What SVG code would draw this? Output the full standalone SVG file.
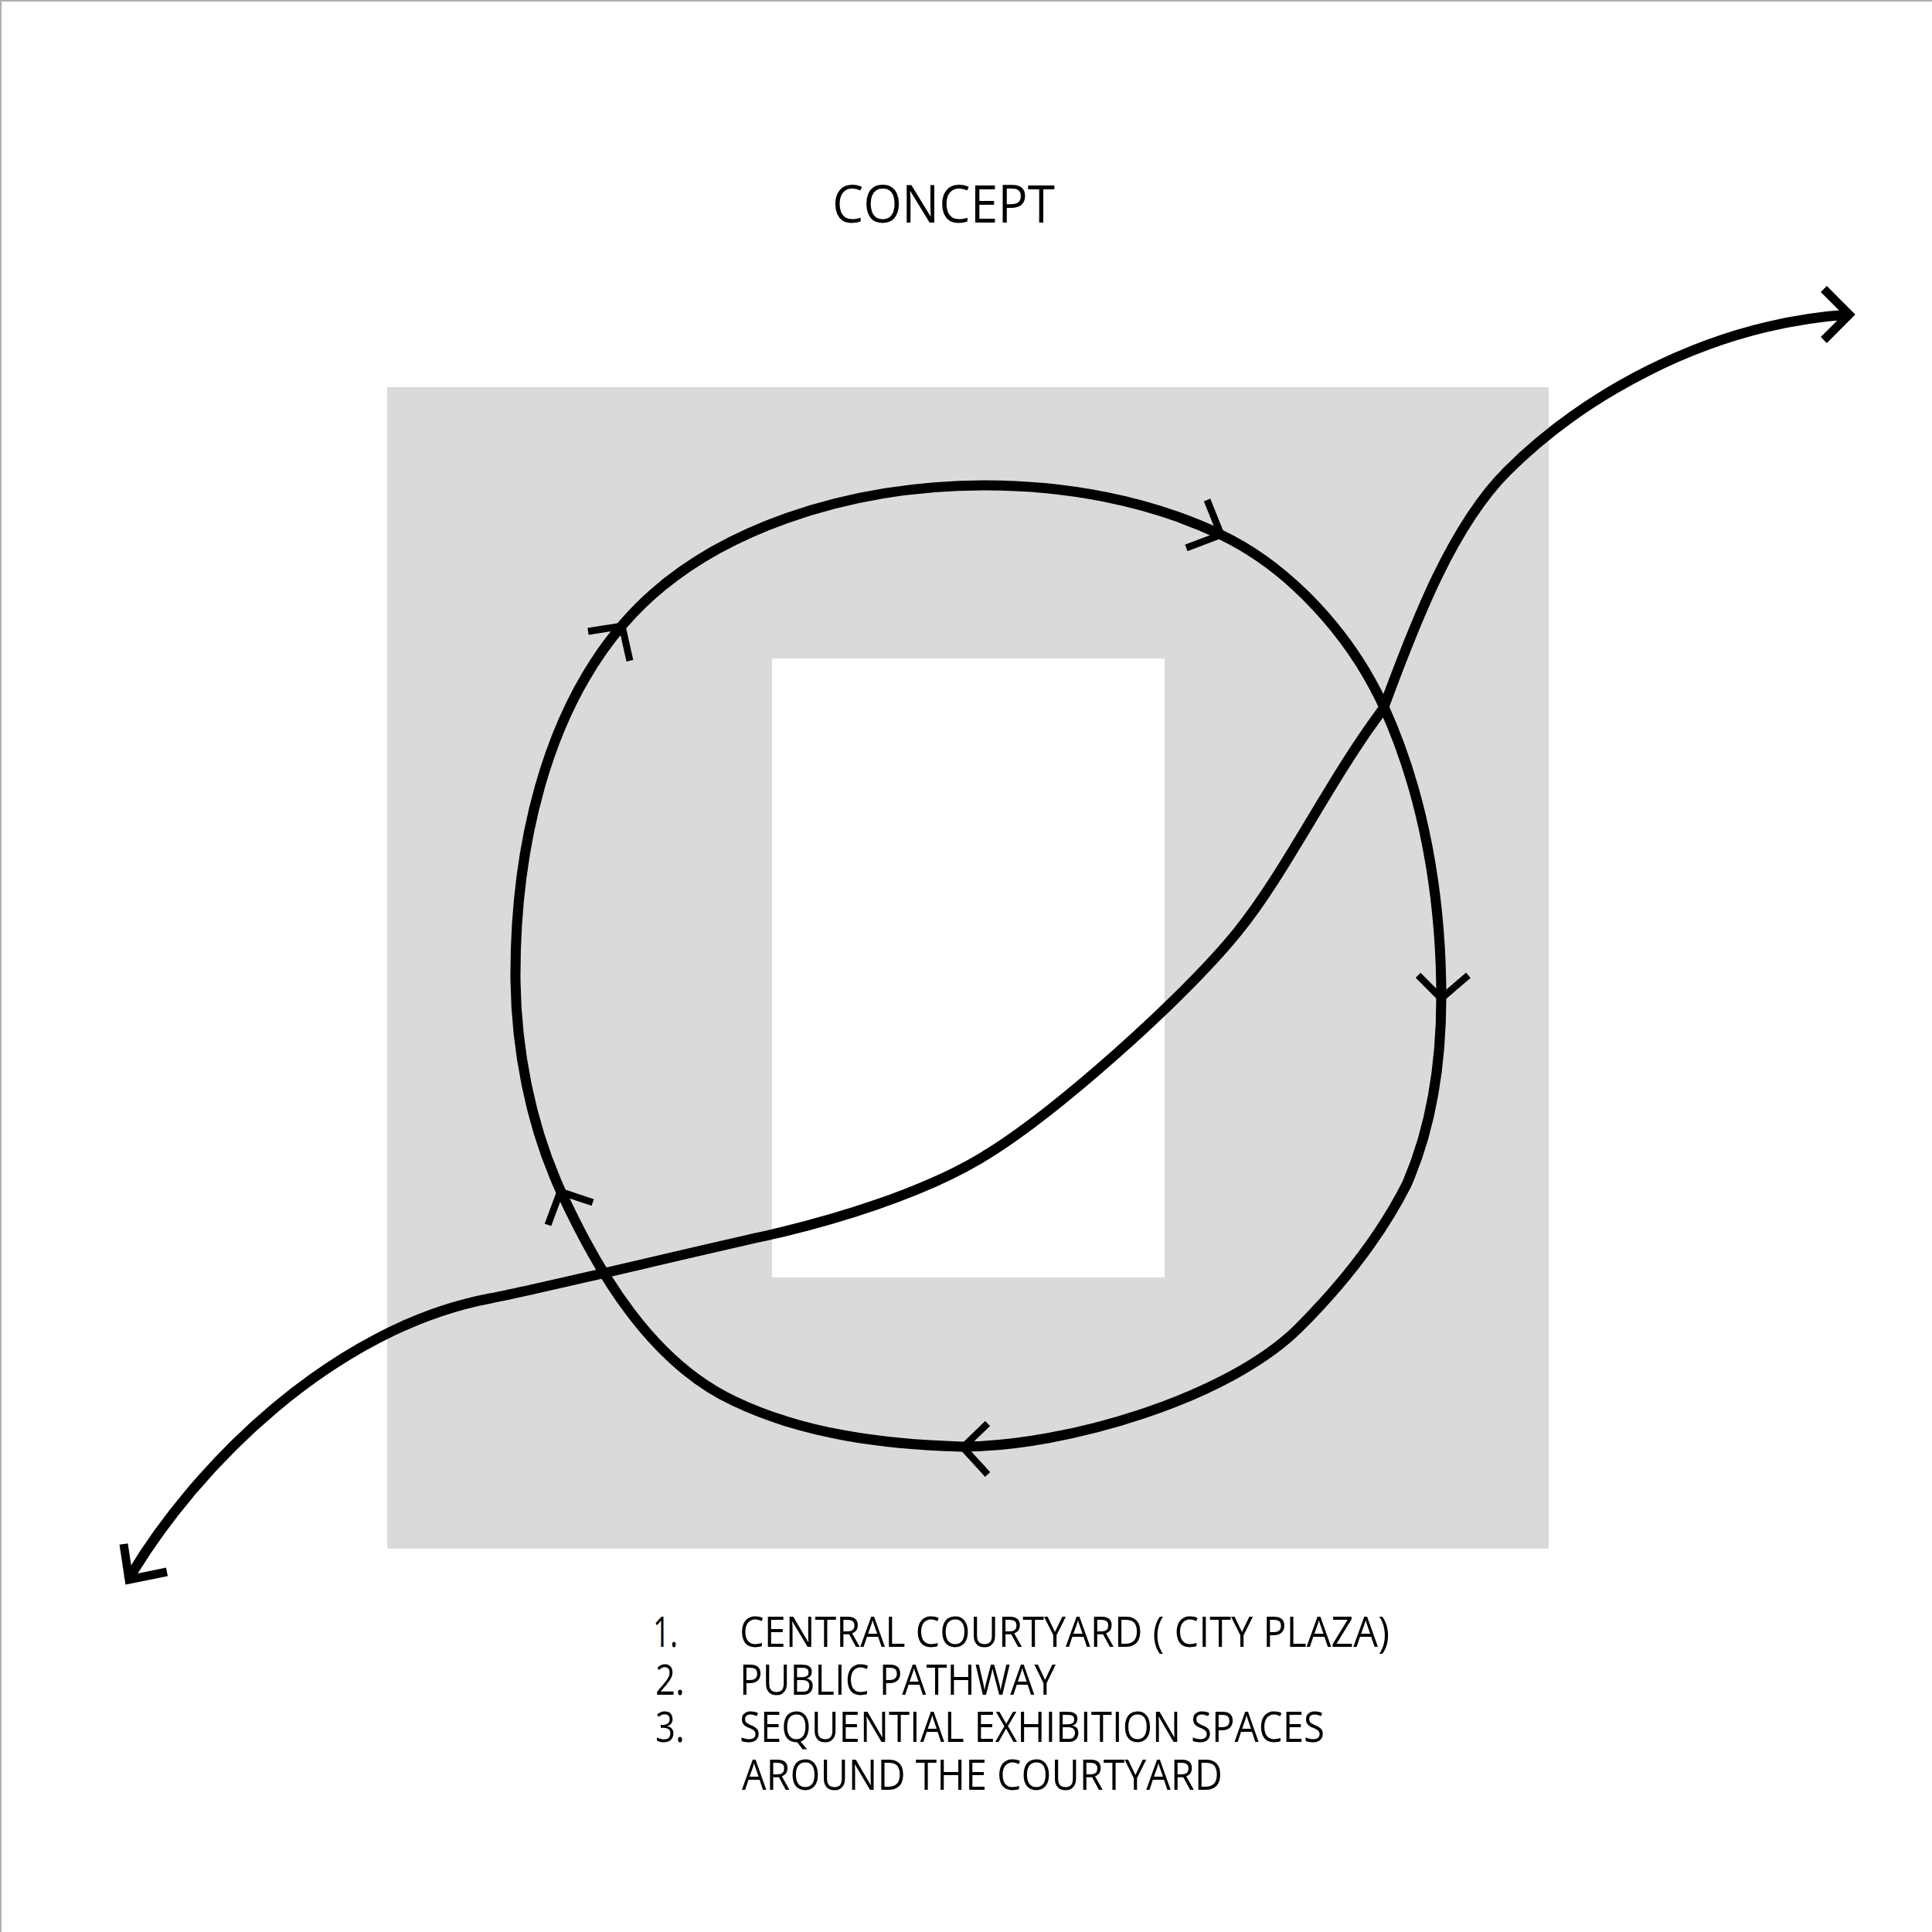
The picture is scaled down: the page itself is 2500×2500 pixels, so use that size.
<svg xmlns="http://www.w3.org/2000/svg" width="2500" height="2500" viewBox="0 0 2500 2500">
<style>
.bg{fill:#ffffff}
.site{fill:#dadada}
.court{fill:#ffffff}
.route{fill:none;stroke:#000;stroke-width:13;stroke-linejoin:round;stroke-linecap:butt}
.head{fill:none;stroke:#000;stroke-width:9;stroke-linejoin:miter;stroke-linecap:butt}
.headL{fill:none;stroke:#000;stroke-width:11;stroke-linejoin:miter;stroke-linecap:butt}
.title{font-family:"Open Sans","Liberation Sans",sans-serif;font-size:67px;fill:#000}
.item{font-family:"Open Sans","Liberation Sans",sans-serif;font-size:54px;fill:#000}
</style>
<rect class="bg" x="0" y="0" width="2500" height="2500"/>
<line x1="1" y1="0" x2="1" y2="2500" stroke="#b0b0b0" stroke-width="2"/>
<line x1="0" y1="1" x2="2500" y2="1" stroke="#b0b0b0" stroke-width="2"/>

<g id="title">
<text class="title" x="1077" y="288" textLength="288" lengthAdjust="spacingAndGlyphs">CONCEPT</text>
</g>

<g id="site">
<rect class="site" x="501" y="501" width="1503" height="1503"/>
</g>
<g id="courtyard">
<rect class="court" x="999" y="852" width="508" height="801"/>
</g>

<g id="connectors">
<g id="exhibition-loop">
<path class="route" d="M1274,628 C1378,628 1486,647 1580,692 C1670,735 1748,822 1790,913 C1843,1029 1865,1162 1865,1290 C1865,1372 1853,1458 1820,1533 C1785,1602 1735,1664 1681,1718 C1590,1809 1380,1872 1244,1872 C1144,1869 1040,1856 950,1813 C843,1763 774,1647 725,1540 C686,1454 667,1355 667,1260 C667,1102 704,926 807,807 C916,681 1107,628 1274,628 Z"/>
<polyline class="head" points="1562,647 1580,692 1535,709"/>
<polyline class="head" points="1835,1262 1865,1292 1900,1262"/>
<polyline class="head" points="1278,1842 1246,1873 1278,1908"/>
<polyline class="head" points="709,1585 725,1542 767,1556"/>
<polyline class="head" points="761,817 805,810 815,855"/>
</g>
<g id="public-pathway">
<path class="route" d="M166,2044 C250,1900 430,1718 635,1680 C694,1669 883,1623 1000,1597 C1078,1579 1189,1546 1267,1500 C1362,1444 1533,1291 1602,1205 C1665,1127 1720,1010 1790,917 C1833,800 1880,680 1950,610 C2040,520 2200,420 2392,407"/>
<polyline class="headL" points="2360,374 2393,407 2360,440"/>
<polyline class="headL" points="160,1998 167,2044 216,2034"/>
</g>
</g>

<g id="legend">
<text class="item" x="845" y="2131" textLength="32" lengthAdjust="spacingAndGlyphs">1.</text>
<text class="item" x="957" y="2131" textLength="841" lengthAdjust="spacingAndGlyphs">CENTRAL COURTYARD ( CITY PLAZA)</text>
<text class="item" x="848" y="2193" textLength="38" lengthAdjust="spacingAndGlyphs">2.</text>
<text class="item" x="957" y="2193" textLength="409" lengthAdjust="spacingAndGlyphs">PUBLIC PATHWAY</text>
<text class="item" x="848" y="2254" textLength="38" lengthAdjust="spacingAndGlyphs">3.</text>
<text class="item" x="957" y="2254" textLength="757" lengthAdjust="spacingAndGlyphs">SEQUENTIAL EXHIBITION SPACES</text>
<text class="item" x="960" y="2316" textLength="622" lengthAdjust="spacingAndGlyphs">AROUND THE COURTYARD</text>
</g>
</svg>
